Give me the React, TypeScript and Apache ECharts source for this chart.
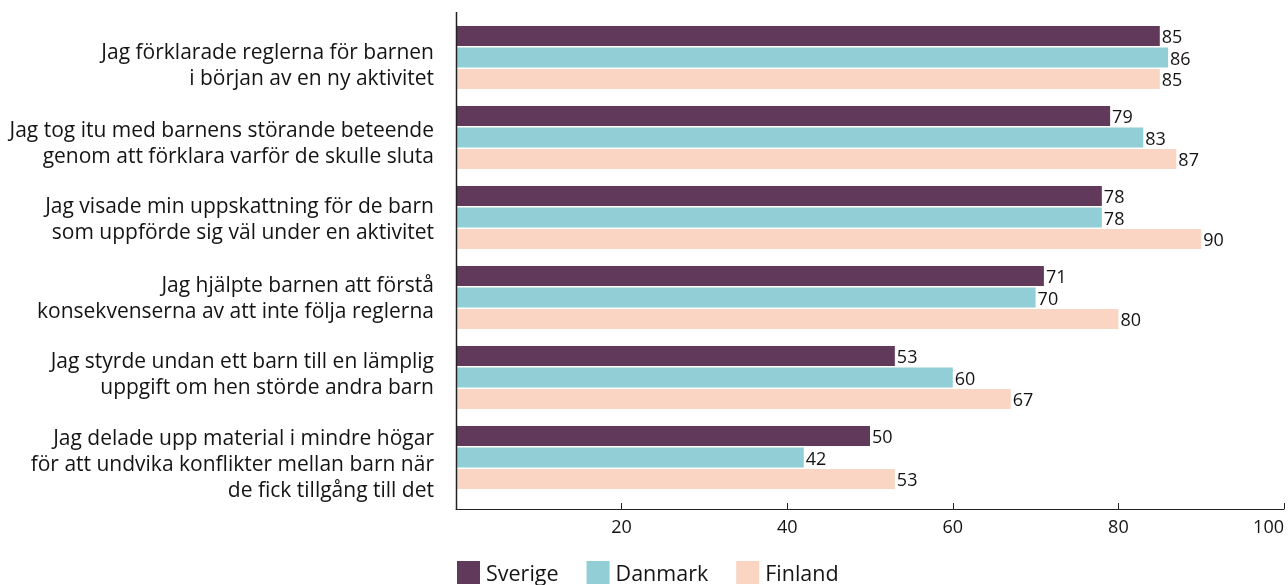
import React, { useEffect, useRef } from "react";
import * as echarts from "echarts";

const categories = [
  "Jag förklarade reglerna för barnen\ni början av en ny aktivitet",
  "Jag tog itu med barnens störande beteende\ngenom att förklara varför de skulle sluta",
  "Jag visade min uppskattning för de barn\nsom uppförde sig väl under en aktivitet",
  "Jag hjälpte barnen att förstå\nkonsekvenserna av att inte följa reglerna",
  "Jag styrde undan ett barn till en lämplig\nuppgift om hen störde andra barn",
  "Jag delade upp material i mindre högar\nför att undvika konflikter mellan barn när\nde fick tillgång till det",
];
const sverige = [85, 79, 78, 71, 53, 50];
const danmark = [86, 83, 78, 70, 60, 42];
const finland = [85, 87, 90, 80, 67, 53];
const seriesNames = ["Sverige", "Danmark", "Finland"];
const colors = ["#61395b", "#92ced5", "#fad5c3"];

// layout only: vertical nudge (px) of each category label relative to its band centre
const labelNudge = [6, 4, 0.5, -0.5, -5, 5.5];

const FONT = "Open Sans";
const TEXT = "#141414";

export default function App() {
  const ref = useRef<HTMLDivElement>(null);
  useEffect(() => {
    if (!ref.current) return;
    const chart = echarts.init(ref.current, null, { renderer: "svg" });
    const data = [sverige, danmark, finland];
    const rich: Record<string, any> = {
      t: { fontSize: 21, lineHeight: 26, color: TEXT, fontFamily: FONT, align: "right" },
    };
    labelNudge.forEach((s, i) => {
      rich["s" + i] = { fontSize: 1, lineHeight: Math.max(1, Math.abs(2 * s)), color: "rgba(0,0,0,0)" };
    });
    chart.setOption({
      animation: false,
      textStyle: { fontFamily: FONT },
      grid: { left: 456, right: 4, top: 17.5, height: 480 },
      legend: {
        bottom: -4,
        left: 452,
        itemWidth: 23,
        itemHeight: 23,
        itemGap: 28,
        icon: "rect",
        textStyle: { fontSize: 21.5, color: TEXT, fontFamily: FONT, padding: [0, 0, 0, 1] },
        data: seriesNames,
      },
      xAxis: {
        type: "value",
        min: 0,
        max: 100,
        interval: 20,
        offset: 11.5,
        axisLine: { show: true, lineStyle: { color: "#222", width: 1 } },
        axisTick: { show: true, inside: true, length: 6, lineStyle: { color: "#222" } },
        axisLabel: {
          showMinLabel: false,
          alignMaxLabel: "right",
          fontSize: 18,
          color: TEXT,
          margin: 8,
          fontFamily: FONT,
        },
        splitLine: { show: false },
      },
      yAxis: {
        type: "category",
        inverse: true,
        data: categories,
        axisLine: { show: false },
        axisTick: { show: false },
        axisLabel: {
          fontSize: 21,
          lineHeight: 26,
          color: TEXT,
          margin: 22,
          align: "right",
          fontFamily: FONT,
          rich,
          formatter: (v: string, i: number) => {
            const lines = v
              .split("\n")
              .map((l) => `{t|${l}}`)
              .join("\n");
            const s = labelNudge[i];
            if (s > 0) return `{s${i}| }\n${lines}`;
            if (s < 0) return `${lines}\n{s${i}| }`;
            return lines;
          },
        },
      },
      graphic: [
        {
          type: "line",
          shape: { x1: 456.5, y1: 12, x2: 456.5, y2: 509 },
          style: { stroke: "#222", lineWidth: 1.5 },
          z: 10,
        },
      ],
      series: seriesNames.map((name, i) => ({
        name,
        type: "bar",
        data: data[i],
        barWidth: 20,
        barGap: "8%",
        itemStyle: { color: colors[i] },
        label: {
          show: true,
          position: "right",
          distance: 2,
          fontSize: 18,
          color: TEXT,
          fontFamily: FONT,
        },
      })),
    });
    return () => chart.dispose();
  }, []);
  return (
    <div
      ref={ref}
      style={{ position: "fixed", left: 0, top: 0, width: 1288, height: 585 }}
    />
  );
}
